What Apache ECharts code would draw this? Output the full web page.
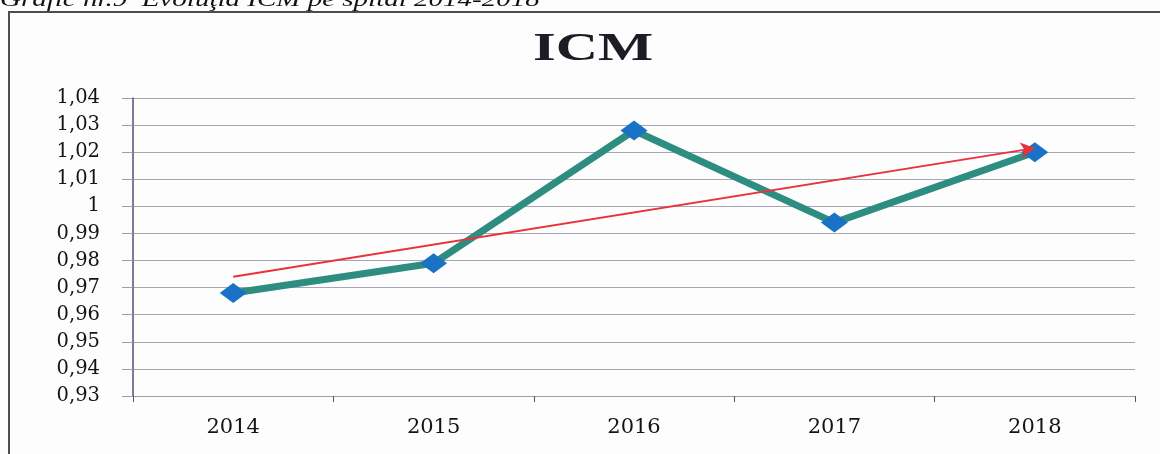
<!DOCTYPE html>
<html>
<head>
<meta charset="utf-8">
<script src="https://cdn.jsdelivr.net/npm/echarts@6/dist/echarts.min.js"></script>
<style>
html,body{margin:0;padding:0;background:#fdfdfd;}
#chart{width:1160px;height:454px;}
</style>
</head>
<body>
<div id="chart"></div>
<script>
var years = ['2014', '2015', '2016', '2017', '2018'];
var icm = [0.968, 0.979, 1.028, 0.994, 1.020];
// trend arrow start / end (2014 -> 2018)
var trend = [0.974, 1.0215];
var yMin = 0.93, yMax = 1.04, yStep = 0.01;

var chart = echarts.init(document.getElementById('chart'));

function yLabel(v){
	if(Math.abs(v - 1) < 1e-9) return '1';
	return v.toFixed(2).replace('.', ',');
}

var option = {
	backgroundColor:'#fdfdfd',
	animation:false,
	graphic:[
		{
			type:'text',
			x:0, y:11,
			scaleX:1.45,
			style:{
				text:'Grafic nr.9  Evoluţia ICM pe spital 2014-2018',
				x:0, y:0,
				font:'italic 20px "Liberation Serif"',
				fill:'#111',
				verticalAlign:'bottom'
			}
		},
		{
			type:'rect',
			shape:{x:9, y:12, width:1200, height:500},
			style:{fill:null, stroke:'#4d4d4d', lineWidth:2}
		},
		{
			type:'text',
			x:593, y:50,
			scaleX:1.5,
			style:{
				text:'ICM',
				x:0, y:0,
				font:'bold 39px "Liberation Serif"',
				fill:'#1c1c24',
				align:'center',
				verticalAlign:'middle'
			}
		}
	],
	grid:{left:133, right:25, top:98, bottom:58},
	xAxis:{
		type:'category',
		data:years,
		boundaryGap:true,
		axisLine:{lineStyle:{color:'#9c9cac', width:1}},
		axisTick:{show:true, length:6, lineStyle:{color:'#555'}},
		axisLabel:{
			fontFamily:'DejaVu Serif',
			fontSize:21,
			color:'#141418',
			margin:21
		}
	},
	yAxis:{
		type:'value',
		min:yMin,
		max:yMax,
		interval:yStep,
		axisLine:{show:true, lineStyle:{color:'#4a5278', width:1.5}},
		axisTick:{show:true, length:11, lineStyle:{color:'#9c9cac'}},
		splitLine:{lineStyle:{color:'#a6a6b6', width:1}},
		axisLabel:{
			fontFamily:'DejaVu Serif',
			fontSize:19.5,
			color:'#141418',
			margin:33,
			formatter:yLabel
		}
	},
	series:[
		{
			name:'ICM',
			type:'line',
			data:icm,
			symbol:'diamond',
			symbolSize:[27, 20],
			itemStyle:{color:'#1a72c6'},
			lineStyle:{color:'#2d8d80', width:7},
			z:3,
			markLine:{
				silent:true,
				symbol:['none', 'arrow'],
				symbolSize:[12, 14],
				label:{show:false},
				lineStyle:{color:'#e8323c', width:2, type:'solid'},
				data:[[
					{coord:[0, trend[0]]},
					{coord:[4, trend[1]]}
				]],
				z:5
			}
		}
	]
};
chart.setOption(option);
</script>
</body>
</html>
